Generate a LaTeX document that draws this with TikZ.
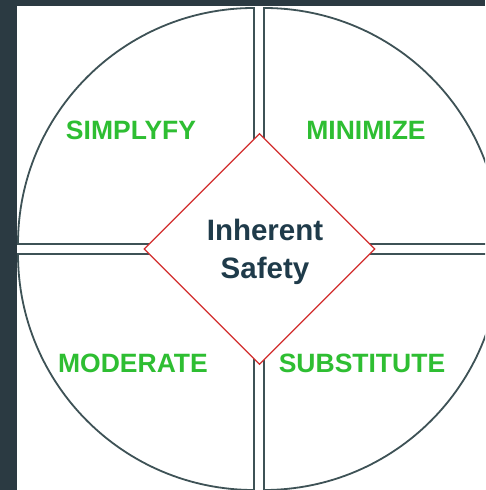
\documentclass[tikz,border=0pt]{standalone}
\usepackage{fontspec}
\setmainfont{Liberation Sans}
\usetikzlibrary{shapes.geometric}
\definecolor{bgdark}{RGB}{43,58,66}
\definecolor{quadline}{RGB}{62,82,86}
\definecolor{diared}{RGB}{210,45,45}
\definecolor{labgreen}{RGB}{46,190,50}
\definecolor{textdark}{RGB}{31,59,74}
\tikzset{
  quad/.style={draw=quadline, line width=1.8pt, fill=white},
  lab/.style={text=labgreen, font=\fontsize{26.5}{30}\selectfont\bfseries, anchor=base, inner sep=0pt},
  core/.style={diamond, aspect=1, draw=diared, line width=1.2pt, fill=white, minimum width=231pt, minimum height=231pt, inner sep=0pt},
  coretext/.style={text=textdark, font=\fontsize{29.5}{38}\selectfont\bfseries, align=center, inner sep=0pt}
}
\begin{document}
\begin{tikzpicture}[x=1pt,y=1pt]
\useasboundingbox (0,0) rectangle (485,490);
\fill[bgdark] (0,0) rectangle (485,490);
\begin{scope}
\clip (0,0) rectangle (485,490);
\fill[white] (17,0) rectangle (485,484);
\draw[quad] (254,246) -- ++(-236,0) arc[start angle=180,end angle=90,radius=236pt] -- cycle;
\draw[quad] (264,246) -- ++(0,236) arc[start angle=90,end angle=0,radius=236pt] -- cycle;
\draw[quad] (264,236) -- ++(236,0) arc[start angle=0,end angle=-90,radius=236pt] -- cycle;
\draw[quad] (254,236) -- ++(0,-236) arc[start angle=270,end angle=180,radius=236pt] -- cycle;
\end{scope}
\node[core] (core) at (259.5,241) {};
\node[coretext] (coretxt) at (265,238.5) {Inherent\\Safety};
\node[lab] (simp) at (131,350) {SIMPLYFY};
\node[lab] (mini) at (366,350) {MINIMIZE};
\node[lab] (mode) at (133,117) {MODERATE};
\node[lab] (subs) at (362,117) {SUBSTITUTE};
\end{tikzpicture}
\end{document}
